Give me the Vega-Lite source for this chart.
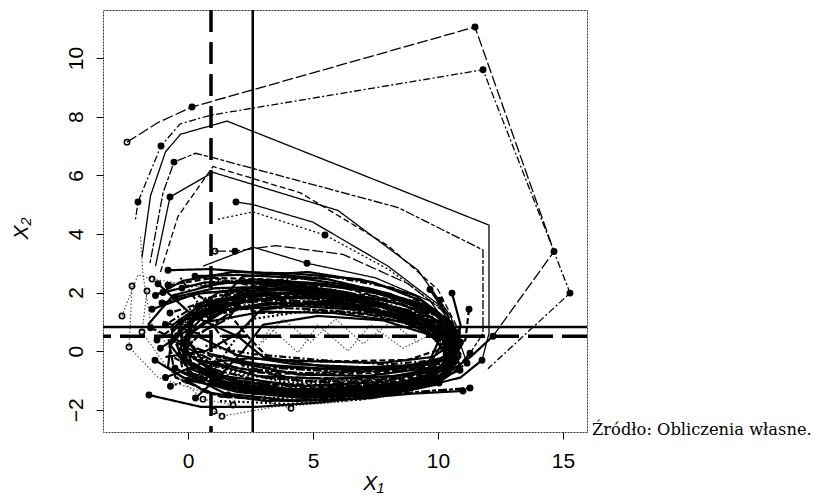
{
  "$schema": "https://vega.github.io/schema/vega-lite/v6.json",
  "width": 484,
  "height": 422,
  "autosize": {"type": "none"},
  "padding": {"left": 103, "top": 10, "right": 232, "bottom": 64},
  "background": "white",
  "config": {
    "view": {"stroke": "#333", "strokeWidth": 1, "strokeDash": [2, 1]},
    "font": "Liberation Sans",
    "axisX": {
      "domain": false, "grid": false, "tickSize": 7, "tickColor": "#000", "tickWidth": 1,
      "labelFont": "Liberation Sans", "labelFontSize": 21, "labelColor": "#000",
      "labelPadding": 11, "labelFlush": false, "labelOverlap": false,
      "titleFont": "Liberation Sans", "titleFontSize": 21, "titleFontStyle": "italic",
      "titleFontWeight": "normal", "titleColor": "#000",
      "titleX": 270, "titleY": 57, "titleAlign": "center", "titleBaseline": "alphabetic"
    },
    "axisY": {
      "domain": false, "grid": false, "tickSize": 7, "tickColor": "#000", "tickWidth": 1,
      "labelFont": "Liberation Sans", "labelFontSize": 21, "labelColor": "#000",
      "labelAngle": 270, "labelAlign": "center", "labelBaseline": "alphabetic",
      "labelPadding": 14, "labelFlush": false, "labelOverlap": false,
      "titleFont": "Liberation Sans", "titleFontSize": 21, "titleFontStyle": "italic",
      "titleFontWeight": "normal", "titleColor": "#000",
      "titleAngle": 270, "titleX": -76, "titleY": 218, "titleAlign": "center", "titleBaseline": "alphabetic"
    }
  },
  "datasets": {
    "paths": [
      {"id":1,"t":1,"x":-0.8,"y":2.76},{"id":1,"t":2,"x":0.9,"y":2.8},{"id":1,"t":3,"x":3.2,"y":2.65},{"id":1,"t":4,"x":5.6,"y":2.45},{"id":1,"t":5,"x":8.1,"y":1.95},{"id":1,"t":6,"x":9.9,"y":1.25},{"id":1,"t":7,"x":10.7,"y":0.35},{"id":1,"t":8,"x":10.3,"y":-0.55},{"id":1,"t":9,"x":7.8,"y":-1.05},{"id":1,"t":10,"x":4.6,"y":-1.2},{"id":1,"t":11,"x":1.4,"y":-0.85},{"id":1,"t":12,"x":-0.4,"y":0.1},
      {"id":2,"t":1,"x":-0.8,"y":2.25},{"id":2,"t":2,"x":1.0,"y":2.5},{"id":2,"t":3,"x":3.1,"y":2.45},{"id":2,"t":4,"x":5.8,"y":2.25},{"id":2,"t":5,"x":8.3,"y":1.7},{"id":2,"t":6,"x":10.1,"y":0.95},{"id":2,"t":7,"x":10.6,"y":0.05},{"id":2,"t":8,"x":9.9,"y":-0.75},{"id":2,"t":9,"x":7.2,"y":-1.3},{"id":2,"t":10,"x":4.1,"y":-1.4},{"id":2,"t":11,"x":1.2,"y":-1.05},{"id":2,"t":12,"x":-0.6,"y":-0.2},
      {"id":3,"t":1,"x":-1.0,"y":2.0},{"id":3,"t":2,"x":0.7,"y":2.35},{"id":3,"t":3,"x":2.9,"y":2.3},{"id":3,"t":4,"x":5.4,"y":2.1},{"id":3,"t":5,"x":7.9,"y":1.6},{"id":3,"t":6,"x":9.8,"y":0.9},{"id":3,"t":7,"x":10.9,"y":-0.1},{"id":3,"t":8,"x":10.2,"y":-0.9},{"id":3,"t":9,"x":7.6,"y":-1.45},{"id":3,"t":10,"x":4.8,"y":-1.55},{"id":3,"t":11,"x":2.0,"y":-1.3},{"id":3,"t":12,"x":0.1,"y":-0.6},
      {"id":4,"t":1,"x":-0.24,"y":2.15},{"id":4,"t":2,"x":1.3,"y":2.4},{"id":4,"t":3,"x":3.6,"y":2.35},{"id":4,"t":4,"x":6.1,"y":2.05},{"id":4,"t":5,"x":8.6,"y":1.45},{"id":4,"t":6,"x":10.2,"y":0.7},{"id":4,"t":7,"x":10.5,"y":-0.2},{"id":4,"t":8,"x":9.6,"y":-0.95},{"id":4,"t":9,"x":6.9,"y":-1.2},{"id":4,"t":10,"x":3.8,"y":-1.05},{"id":4,"t":11,"x":1.0,"y":-0.5},{"id":4,"t":12,"x":-0.2,"y":0.4},
      {"id":5,"t":1,"x":-0.52,"y":1.84},{"id":5,"t":2,"x":1.1,"y":2.15},{"id":5,"t":3,"x":3.4,"y":2.2},{"id":5,"t":4,"x":5.9,"y":1.95},{"id":5,"t":5,"x":8.4,"y":1.35},{"id":5,"t":6,"x":10.0,"y":0.6},{"id":5,"t":7,"x":10.8,"y":-0.35},{"id":5,"t":8,"x":10.0,"y":-1.1},{"id":5,"t":9,"x":7.4,"y":-1.6},{"id":5,"t":10,"x":4.3,"y":-1.7},{"id":5,"t":11,"x":1.5,"y":-1.45},{"id":5,"t":12,"x":-0.3,"y":-0.7},
      {"id":6,"t":1,"x":-1.04,"y":1.64},{"id":6,"t":2,"x":0.6,"y":2.0},{"id":6,"t":3,"x":2.8,"y":2.05},{"id":6,"t":4,"x":5.2,"y":1.85},{"id":6,"t":5,"x":7.7,"y":1.4},{"id":6,"t":6,"x":9.7,"y":0.75},{"id":6,"t":7,"x":10.6,"y":-0.15},{"id":6,"t":8,"x":9.8,"y":-0.7},{"id":6,"t":9,"x":7.0,"y":-0.95},{"id":6,"t":10,"x":4.0,"y":-0.9},{"id":6,"t":11,"x":1.3,"y":-0.45},{"id":6,"t":12,"x":-0.6,"y":0.35},
      {"id":7,"t":1,"x":-0.72,"y":1.3},{"id":7,"t":2,"x":0.9,"y":1.75},{"id":7,"t":3,"x":3.0,"y":1.9},{"id":7,"t":4,"x":5.5,"y":1.75},{"id":7,"t":5,"x":8.0,"y":1.3},{"id":7,"t":6,"x":9.9,"y":0.55},{"id":7,"t":7,"x":10.4,"y":-0.3},{"id":7,"t":8,"x":9.5,"y":-1.0},{"id":7,"t":9,"x":6.6,"y":-1.35},{"id":7,"t":10,"x":3.5,"y":-1.3},{"id":7,"t":11,"x":0.9,"y":-0.85},{"id":7,"t":12,"x":-0.5,"y":0.0},
      {"id":8,"t":1,"x":-1.44,"y":1.43},{"id":8,"t":2,"x":0.3,"y":1.95},{"id":8,"t":3,"x":2.6,"y":2.15},{"id":8,"t":4,"x":5.0,"y":2.0},{"id":8,"t":5,"x":7.5,"y":1.6},{"id":8,"t":6,"x":9.5,"y":1.0},{"id":8,"t":7,"x":10.7,"y":0.2},{"id":8,"t":8,"x":10.4,"y":-0.6},{"id":8,"t":9,"x":8.2,"y":-1.15},{"id":8,"t":10,"x":5.2,"y":-1.35},{"id":8,"t":11,"x":2.3,"y":-1.2},{"id":8,"t":12,"x":0.0,"y":-0.45},
      {"id":9,"t":1,"x":-1.24,"y":0.38},{"id":9,"t":2,"x":0.2,"y":1.3},{"id":9,"t":3,"x":2.4,"y":1.8},{"id":9,"t":4,"x":4.9,"y":1.8},{"id":9,"t":5,"x":7.3,"y":1.5},{"id":9,"t":6,"x":9.4,"y":0.95},{"id":9,"t":7,"x":10.5,"y":0.1},{"id":9,"t":8,"x":10.1,"y":-0.85},{"id":9,"t":9,"x":7.9,"y":-1.35},{"id":9,"t":10,"x":5.0,"y":-1.5},{"id":9,"t":11,"x":2.2,"y":-1.35},{"id":9,"t":12,"x":0.2,"y":-0.8},
      {"id":10,"t":1,"x":-1.32,"y":-0.31},{"id":10,"t":2,"x":-0.2,"y":-0.9},{"id":10,"t":3,"x":2.0,"y":-1.4},{"id":10,"t":4,"x":4.6,"y":-1.6},{"id":10,"t":5,"x":7.6,"y":-1.5},{"id":10,"t":6,"x":9.9,"y":-1.05},{"id":10,"t":7,"x":10.6,"y":-0.4},{"id":10,"t":8,"x":10.2,"y":0.5},{"id":10,"t":9,"x":8.5,"y":1.25},{"id":10,"t":10,"x":6.0,"y":1.6},{"id":10,"t":11,"x":3.2,"y":1.65},{"id":10,"t":12,"x":0.8,"y":1.3},
      {"id":11,"t":1,"x":-0.52,"y":-0.58},{"id":11,"t":2,"x":0.8,"y":-1.1},{"id":11,"t":3,"x":3.0,"y":-1.45},{"id":11,"t":4,"x":5.6,"y":-1.5},{"id":11,"t":5,"x":8.2,"y":-1.3},{"id":11,"t":6,"x":10.0,"y":-0.75},{"id":11,"t":7,"x":10.8,"y":0.15},{"id":11,"t":8,"x":10.0,"y":0.95},{"id":11,"t":9,"x":8.0,"y":1.55},{"id":11,"t":10,"x":5.3,"y":1.85},{"id":11,"t":11,"x":2.5,"y":1.95},{"id":11,"t":12,"x":0.3,"y":1.6},
      {"id":12,"t":1,"x":-1.56,"y":-1.5},{"id":12,"t":2,"x":0.5,"y":-1.9},{"id":12,"t":3,"x":2.8,"y":-1.9},{"id":12,"t":4,"x":5.3,"y":-1.75},{"id":12,"t":5,"x":7.9,"y":-1.5},{"id":12,"t":6,"x":9.9,"y":-1.15},{"id":12,"t":7,"x":10.9,"y":-0.55},{"id":12,"t":8,"x":10.5,"y":0.3},{"id":12,"t":9,"x":8.6,"y":1.0},{"id":12,"t":10,"x":5.8,"y":1.3},{"id":12,"t":11,"x":3.0,"y":1.35},{"id":12,"t":12,"x":0.8,"y":1.0},
      {"id":13,"t":1,"x":1.6,"y":-1.5},{"id":13,"t":2,"x":3.5,"y":-1.6},{"id":13,"t":3,"x":6.2,"y":-1.55},{"id":13,"t":4,"x":8.7,"y":-1.3},{"id":13,"t":5,"x":10.3,"y":-0.85},{"id":13,"t":6,"x":10.9,"y":-0.1},{"id":13,"t":7,"x":10.2,"y":0.7},{"id":13,"t":8,"x":8.1,"y":1.35},{"id":13,"t":9,"x":5.6,"y":1.65},{"id":13,"t":10,"x":3.0,"y":1.75},{"id":13,"t":11,"x":0.6,"y":1.45},{"id":13,"t":12,"x":-0.4,"y":0.7},
      {"id":14,"t":1,"x":0.28,"y":2.56},{"id":14,"t":2,"x":2.0,"y":2.6},{"id":14,"t":3,"x":4.4,"y":2.5},{"id":14,"t":4,"x":6.8,"y":2.2},{"id":14,"t":5,"x":9.0,"y":1.55},{"id":14,"t":6,"x":10.4,"y":0.8},{"id":14,"t":7,"x":10.9,"y":-0.2},{"id":14,"t":8,"x":10.1,"y":-1.0},{"id":14,"t":9,"x":7.3,"y":-1.45},{"id":14,"t":10,"x":4.4,"y":-1.5},{"id":14,"t":11,"x":1.8,"y":-1.2},{"id":14,"t":12,"x":0.2,"y":-0.4},
      {"id":15,"t":1,"x":-0.3,"y":1.0},{"id":15,"t":2,"x":1.4,"y":1.6},{"id":15,"t":3,"x":3.7,"y":1.75},{"id":15,"t":4,"x":6.3,"y":1.6},{"id":15,"t":5,"x":8.7,"y":1.15},{"id":15,"t":6,"x":10.3,"y":0.45},{"id":15,"t":7,"x":10.6,"y":-0.45},{"id":15,"t":8,"x":9.5,"y":-1.2},{"id":15,"t":9,"x":6.8,"y":-1.5},{"id":15,"t":10,"x":3.7,"y":-1.45},{"id":15,"t":11,"x":1.1,"y":-1.0},{"id":15,"t":12,"x":-0.2,"y":-0.2},
      {"id":16,"t":1,"x":-0.9,"y":0.9},{"id":16,"t":2,"x":0.4,"y":1.6},{"id":16,"t":3,"x":2.7,"y":1.95},{"id":16,"t":4,"x":5.1,"y":1.95},{"id":16,"t":5,"x":7.6,"y":1.55},{"id":16,"t":6,"x":9.6,"y":0.85},{"id":16,"t":7,"x":10.8,"y":0.0},{"id":16,"t":8,"x":10.3,"y":-0.8},{"id":16,"t":9,"x":8.0,"y":-1.2},{"id":16,"t":10,"x":4.9,"y":-1.3},{"id":16,"t":11,"x":2.0,"y":-1.0},{"id":16,"t":12,"x":0.1,"y":-0.2},
      {"id":17,"t":1,"x":0.0,"y":-1.0},{"id":17,"t":2,"x":1.9,"y":-1.3},{"id":17,"t":3,"x":4.3,"y":-1.4},{"id":17,"t":4,"x":7.0,"y":-1.3},{"id":17,"t":5,"x":9.3,"y":-0.95},{"id":17,"t":6,"x":10.7,"y":-0.35},{"id":17,"t":7,"x":10.6,"y":0.45},{"id":17,"t":8,"x":9.0,"y":1.1},{"id":17,"t":9,"x":6.5,"y":1.5},{"id":17,"t":10,"x":3.9,"y":1.65},{"id":17,"t":11,"x":1.4,"y":1.4},{"id":17,"t":12,"x":0.0,"y":0.6},
      {"id":18,"t":1,"x":-0.2,"y":0.3},{"id":18,"t":2,"x":0.9,"y":1.2},{"id":18,"t":3,"x":3.0,"y":1.6},{"id":18,"t":4,"x":5.6,"y":1.55},{"id":18,"t":5,"x":8.1,"y":1.2},{"id":18,"t":6,"x":9.9,"y":0.5},{"id":18,"t":7,"x":10.4,"y":-0.4},{"id":18,"t":8,"x":9.2,"y":-1.05},{"id":18,"t":9,"x":6.3,"y":-1.2},{"id":18,"t":10,"x":3.3,"y":-1.1},{"id":18,"t":11,"x":0.9,"y":-0.6},{"id":18,"t":12,"x":-0.2,"y":0.1},
      {"id":19,"t":1,"x":10.56,"y":1.98},{"id":19,"t":2,"x":10.9,"y":0.9},{"id":19,"t":3,"x":10.7,"y":-0.2},{"id":19,"t":4,"x":9.7,"y":-0.9},{"id":19,"t":5,"x":7.0,"y":-1.25},{"id":19,"t":6,"x":4.0,"y":-1.3},{"id":19,"t":7,"x":1.3,"y":-0.9},{"id":19,"t":8,"x":-0.3,"y":0.1},{"id":19,"t":9,"x":0.4,"y":1.5},{"id":19,"t":10,"x":2.8,"y":2.1},{"id":19,"t":11,"x":5.7,"y":2.1},{"id":19,"t":12,"x":8.5,"y":1.6},
      {"id":20,"t":1,"x":11.24,"y":1.43},{"id":20,"t":2,"x":11.1,"y":0.4},{"id":20,"t":3,"x":10.3,"y":-0.6},{"id":20,"t":4,"x":7.9,"y":-1.1},{"id":20,"t":5,"x":5.0,"y":-1.25},{"id":20,"t":6,"x":2.1,"y":-1.05},{"id":20,"t":7,"x":0.0,"y":-0.4},{"id":20,"t":8,"x":-0.4,"y":0.9},{"id":20,"t":9,"x":1.6,"y":1.9},{"id":20,"t":10,"x":4.3,"y":2.15},{"id":20,"t":11,"x":7.3,"y":1.9},{"id":20,"t":12,"x":9.6,"y":1.3},
      {"id":21,"t":1,"x":9.68,"y":2.1},{"id":21,"t":2,"x":10.4,"y":1.2},{"id":21,"t":3,"x":10.6,"y":0.1},{"id":21,"t":4,"x":9.9,"y":-0.85},{"id":21,"t":5,"x":7.5,"y":-1.35},{"id":21,"t":6,"x":4.6,"y":-1.45},{"id":21,"t":7,"x":1.7,"y":-1.2},{"id":21,"t":8,"x":-0.1,"y":-0.35},{"id":21,"t":9,"x":0.2,"y":1.1},{"id":21,"t":10,"x":2.3,"y":1.85},{"id":21,"t":11,"x":5.2,"y":2.05},{"id":21,"t":12,"x":7.9,"y":1.75},
      {"id":22,"t":1,"x":10.08,"y":1.74},{"id":22,"t":2,"x":10.7,"y":0.7},{"id":22,"t":3,"x":10.4,"y":-0.4},{"id":22,"t":4,"x":8.7,"y":-1.15},{"id":22,"t":5,"x":5.9,"y":-1.45},{"id":22,"t":6,"x":2.9,"y":-1.4},{"id":22,"t":7,"x":0.5,"y":-0.85},{"id":22,"t":8,"x":-0.6,"y":0.4},{"id":22,"t":9,"x":0.9,"y":1.65},{"id":22,"t":10,"x":3.6,"y":2.0},{"id":22,"t":11,"x":6.5,"y":1.85},{"id":22,"t":12,"x":9.0,"y":1.25},
      {"id":23,"t":1,"x":11.76,"y":-0.31},{"id":23,"t":2,"x":10.9,"y":-0.9},{"id":23,"t":3,"x":8.8,"y":-1.35},{"id":23,"t":4,"x":5.8,"y":-1.55},{"id":23,"t":5,"x":2.7,"y":-1.45},{"id":23,"t":6,"x":0.3,"y":-0.9},{"id":23,"t":7,"x":-0.7,"y":0.2},{"id":23,"t":8,"x":0.5,"y":1.5},{"id":23,"t":9,"x":3.0,"y":2.0},{"id":23,"t":10,"x":6.0,"y":1.95},{"id":23,"t":11,"x":8.8,"y":1.4},{"id":23,"t":12,"x":10.6,"y":0.55},
      {"id":24,"t":1,"x":11.28,"y":-0.07},{"id":24,"t":2,"x":10.6,"y":-0.75},{"id":24,"t":3,"x":8.4,"y":-1.2},{"id":24,"t":4,"x":5.4,"y":-1.35},{"id":24,"t":5,"x":2.4,"y":-1.2},{"id":24,"t":6,"x":0.2,"y":-0.55},{"id":24,"t":7,"x":-0.3,"y":0.7},{"id":24,"t":8,"x":1.3,"y":1.7},{"id":24,"t":9,"x":4.0,"y":2.0},{"id":24,"t":10,"x":7.0,"y":1.8},{"id":24,"t":11,"x":9.4,"y":1.15},{"id":24,"t":12,"x":10.7,"y":0.35},
      {"id":25,"t":1,"x":11.16,"y":-0.41},{"id":25,"t":2,"x":10.1,"y":-1.0},{"id":25,"t":3,"x":7.7,"y":-1.4},{"id":25,"t":4,"x":4.7,"y":-1.55},{"id":25,"t":5,"x":1.8,"y":-1.35},{"id":25,"t":6,"x":-0.2,"y":-0.7},{"id":25,"t":7,"x":-0.5,"y":0.6},{"id":25,"t":8,"x":1.0,"y":1.55},{"id":25,"t":9,"x":3.7,"y":1.85},{"id":25,"t":10,"x":6.6,"y":1.75},{"id":25,"t":11,"x":9.1,"y":1.2},{"id":25,"t":12,"x":10.5,"y":0.4},
      {"id":26,"t":1,"x":10.88,"y":-0.65},{"id":26,"t":2,"x":9.6,"y":-1.1},{"id":26,"t":3,"x":6.9,"y":-1.35},{"id":26,"t":4,"x":3.9,"y":-1.35},{"id":26,"t":5,"x":1.1,"y":-1.0},{"id":26,"t":6,"x":-0.4,"y":-0.1},{"id":26,"t":7,"x":0.3,"y":1.2},{"id":26,"t":8,"x":2.5,"y":1.75},{"id":26,"t":9,"x":5.3,"y":1.85},{"id":26,"t":10,"x":8.2,"y":1.5},{"id":26,"t":11,"x":10.1,"y":0.8},{"id":26,"t":12,"x":10.8,"y":-0.1},
      {"id":27,"t":1,"x":11.28,"y":-1.26},{"id":27,"t":2,"x":9.8,"y":-1.35},{"id":27,"t":3,"x":7.0,"y":-1.55},{"id":27,"t":4,"x":4.0,"y":-1.7},{"id":27,"t":5,"x":1.3,"y":-1.55},{"id":27,"t":6,"x":-0.5,"y":-0.9},{"id":27,"t":7,"x":-0.8,"y":0.5},{"id":27,"t":8,"x":0.7,"y":1.8},{"id":27,"t":9,"x":3.3,"y":2.25},{"id":27,"t":10,"x":6.3,"y":2.2},{"id":27,"t":11,"x":9.0,"y":1.7},{"id":27,"t":12,"x":10.7,"y":0.9},
      {"id":28,"t":1,"x":11.0,"y":-1.36},{"id":28,"t":2,"x":9.0,"y":-1.45},{"id":28,"t":3,"x":6.2,"y":-1.65},{"id":28,"t":4,"x":3.1,"y":-1.7},{"id":28,"t":5,"x":0.7,"y":-1.4},{"id":28,"t":6,"x":-0.8,"y":-0.55},{"id":28,"t":7,"x":-0.6,"y":0.9},{"id":28,"t":8,"x":1.2,"y":2.0},{"id":28,"t":9,"x":4.1,"y":2.35},{"id":28,"t":10,"x":7.2,"y":2.15},{"id":28,"t":11,"x":9.6,"y":1.55},{"id":28,"t":12,"x":10.9,"y":0.6},
      {"id":29,"t":1,"x":10.04,"y":-1.09},{"id":29,"t":2,"x":7.6,"y":-1.3},{"id":29,"t":3,"x":4.7,"y":-1.45},{"id":29,"t":4,"x":1.9,"y":-1.3},{"id":29,"t":5,"x":0.0,"y":-0.7},{"id":29,"t":6,"x":-0.6,"y":0.5},{"id":29,"t":7,"x":0.9,"y":1.5},{"id":29,"t":8,"x":3.4,"y":1.85},{"id":29,"t":9,"x":6.2,"y":1.8},{"id":29,"t":10,"x":8.9,"y":1.3},{"id":29,"t":11,"x":10.4,"y":0.5},{"id":29,"t":12,"x":10.4,"y":-0.5},
      {"id":30,"t":1,"x":12.2,"y":0.51},{"id":30,"t":2,"x":11.3,"y":-0.2},{"id":30,"t":3,"x":10.2,"y":-0.85},{"id":30,"t":4,"x":7.4,"y":-1.2},{"id":30,"t":5,"x":4.3,"y":-1.35},{"id":30,"t":6,"x":1.5,"y":-1.1},{"id":30,"t":7,"x":-0.2,"y":-0.3},{"id":30,"t":8,"x":0.1,"y":1.0},{"id":30,"t":9,"x":2.1,"y":1.7},{"id":30,"t":10,"x":4.9,"y":1.9},{"id":30,"t":11,"x":7.7,"y":1.6},{"id":30,"t":12,"x":9.9,"y":0.95},
      {"id":31,"t":1,"x":10.5,"y":0.9},{"id":31,"t":2,"x":10.7,"y":-0.1},{"id":31,"t":3,"x":9.9,"y":-0.65},{"id":31,"t":4,"x":7.6,"y":-0.95},{"id":31,"t":5,"x":4.8,"y":-1.05},{"id":31,"t":6,"x":2.0,"y":-0.8},{"id":31,"t":7,"x":0.2,"y":-0.1},{"id":31,"t":8,"x":0.1,"y":1.0},{"id":31,"t":9,"x":2.0,"y":1.55},{"id":31,"t":10,"x":4.6,"y":1.65},{"id":31,"t":11,"x":7.4,"y":1.45},{"id":31,"t":12,"x":9.6,"y":0.85},
      {"id":32,"t":1,"x":10.9,"y":0.3},{"id":32,"t":2,"x":10.3,"y":-0.5},{"id":32,"t":3,"x":8.3,"y":-0.85},{"id":32,"t":4,"x":5.6,"y":-0.95},{"id":32,"t":5,"x":2.8,"y":-0.85},{"id":32,"t":6,"x":0.6,"y":-0.35},{"id":32,"t":7,"x":-0.1,"y":0.5},{"id":32,"t":8,"x":1.5,"y":1.4},{"id":32,"t":9,"x":4.2,"y":1.55},{"id":32,"t":10,"x":7.0,"y":1.4},{"id":32,"t":11,"x":9.3,"y":0.95},{"id":32,"t":12,"x":10.6,"y":0.2},
      {"id":51,"t":1,"x":-0.6,"y":0.7},{"id":51,"t":2,"x":0.8,"y":1.5},{"id":51,"t":3,"x":3.2,"y":2.4},{"id":51,"t":4,"x":5.7,"y":2.55},{"id":51,"t":5,"x":8.2,"y":2.15},{"id":51,"t":6,"x":9.8,"y":1.45},{"id":51,"t":7,"x":10.6,"y":0.5},{"id":51,"t":8,"x":10.1,"y":-0.3},{"id":51,"t":9,"x":8.0,"y":-0.45},{"id":51,"t":10,"x":5.2,"y":-0.3},{"id":51,"t":11,"x":2.6,"y":-0.1},{"id":51,"t":12,"x":0.6,"y":0.2},
      {"id":52,"t":1,"x":-1.1,"y":0.1},{"id":52,"t":2,"x":0.3,"y":0.9},{"id":52,"t":3,"x":2.2,"y":2.55},{"id":52,"t":4,"x":4.8,"y":2.7},{"id":52,"t":5,"x":7.4,"y":2.35},{"id":52,"t":6,"x":9.4,"y":1.7},{"id":52,"t":7,"x":10.5,"y":0.8},{"id":52,"t":8,"x":10.3,"y":-0.2},{"id":52,"t":9,"x":8.4,"y":-0.6},{"id":52,"t":10,"x":5.5,"y":-0.6},{"id":52,"t":11,"x":2.8,"y":-0.45},{"id":52,"t":12,"x":0.9,"y":-0.1},
      {"id":53,"t":1,"x":-0.4,"y":-0.2},{"id":53,"t":2,"x":0.5,"y":0.6},{"id":53,"t":3,"x":2.0,"y":1.5},{"id":53,"t":4,"x":4.5,"y":1.45},{"id":53,"t":5,"x":7.0,"y":1.3},{"id":53,"t":6,"x":9.0,"y":0.9},{"id":53,"t":7,"x":10.2,"y":0.3},{"id":53,"t":8,"x":9.7,"y":-0.4},{"id":53,"t":9,"x":7.5,"y":-0.7},{"id":53,"t":10,"x":4.6,"y":-0.75},{"id":53,"t":11,"x":2.1,"y":-0.6},{"id":53,"t":12,"x":0.4,"y":-0.3},
      {"id":54,"t":1,"x":-0.9,"y":-0.9},{"id":54,"t":2,"x":0.6,"y":-0.4},{"id":54,"t":3,"x":2.4,"y":-0.25},{"id":54,"t":4,"x":5.0,"y":-0.35},{"id":54,"t":5,"x":7.8,"y":-0.4},{"id":54,"t":6,"x":9.8,"y":-0.2},{"id":54,"t":7,"x":10.8,"y":0.4},{"id":54,"t":8,"x":10.4,"y":1.1},{"id":54,"t":9,"x":8.3,"y":1.85},{"id":54,"t":10,"x":5.5,"y":2.3},{"id":54,"t":11,"x":2.6,"y":2.45},{"id":54,"t":12,"x":0.5,"y":2.2},
      {"id":55,"t":1,"x":-1.5,"y":0.8},{"id":55,"t":2,"x":0.0,"y":0.2},{"id":55,"t":3,"x":2.2,"y":-0.7},{"id":55,"t":4,"x":4.8,"y":-0.8},{"id":55,"t":5,"x":7.6,"y":-0.75},{"id":55,"t":6,"x":9.7,"y":-0.5},{"id":55,"t":7,"x":10.7,"y":-0.05},{"id":55,"t":8,"x":10.0,"y":0.7},{"id":55,"t":9,"x":8.0,"y":1.2},{"id":55,"t":10,"x":5.4,"y":1.35},{"id":55,"t":11,"x":2.9,"y":1.3},{"id":55,"t":12,"x":0.8,"y":1.8},
      {"id":56,"t":1,"x":-1.2,"y":2.3},{"id":56,"t":2,"x":0.2,"y":1.2},{"id":56,"t":3,"x":2.0,"y":0.5},{"id":56,"t":4,"x":3.0,"y":-0.2},{"id":56,"t":5,"x":5.6,"y":-0.55},{"id":56,"t":6,"x":8.4,"y":-0.55},{"id":56,"t":7,"x":10.3,"y":-0.25},{"id":56,"t":8,"x":10.9,"y":0.5},{"id":56,"t":9,"x":9.9,"y":1.4},{"id":56,"t":10,"x":7.6,"y":2.0},{"id":56,"t":11,"x":4.8,"y":2.3},{"id":56,"t":12,"x":1.9,"y":2.4},
      {"id":57,"t":1,"x":-0.7,"y":-1.2},{"id":57,"t":2,"x":1.0,"y":-0.7},{"id":57,"t":3,"x":1.8,"y":0.3},{"id":57,"t":4,"x":2.6,"y":1.1},{"id":57,"t":5,"x":5.0,"y":1.4},{"id":57,"t":6,"x":7.5,"y":1.25},{"id":57,"t":7,"x":9.6,"y":0.7},{"id":57,"t":8,"x":10.7,"y":-0.3},{"id":57,"t":9,"x":10.0,"y":-1.05},{"id":57,"t":10,"x":7.0,"y":-1.65},{"id":57,"t":11,"x":4.0,"y":-1.8},{"id":57,"t":12,"x":1.2,"y":-1.7},
      {"id":58,"t":1,"x":0.3,"y":-1.6},{"id":58,"t":2,"x":1.2,"y":-0.9},{"id":58,"t":3,"x":2.2,"y":0.0},{"id":58,"t":4,"x":3.0,"y":0.9},{"id":58,"t":5,"x":5.2,"y":1.2},{"id":58,"t":6,"x":7.8,"y":1.05},{"id":58,"t":7,"x":9.7,"y":0.55},{"id":58,"t":8,"x":10.5,"y":-0.2},{"id":58,"t":9,"x":9.2,"y":-0.55},{"id":58,"t":10,"x":6.5,"y":-0.65},{"id":58,"t":11,"x":3.8,"y":-0.55},{"id":58,"t":12,"x":1.6,"y":-0.3},
      {"id":59,"t":1,"x":-1.0,"y":1.0},{"id":59,"t":2,"x":0.4,"y":0.6},{"id":59,"t":3,"x":1.6,"y":1.1},{"id":59,"t":4,"x":2.4,"y":2.0},{"id":59,"t":5,"x":4.9,"y":2.3},{"id":59,"t":6,"x":7.6,"y":2.05},{"id":59,"t":7,"x":9.5,"y":1.4},{"id":59,"t":8,"x":10.4,"y":0.6},{"id":59,"t":9,"x":10.2,"y":-0.3},{"id":59,"t":10,"x":8.6,"y":-0.9},{"id":59,"t":11,"x":5.9,"y":-1.1},{"id":59,"t":12,"x":3.0,"y":-0.9},
      {"id":60,"t":1,"x":-0.3,"y":2.5},{"id":60,"t":2,"x":0.6,"y":1.4},{"id":60,"t":3,"x":1.4,"y":0.4},{"id":60,"t":4,"x":2.2,"y":-0.5},{"id":60,"t":5,"x":4.5,"y":-1.0},{"id":60,"t":6,"x":7.3,"y":-1.05},{"id":60,"t":7,"x":9.4,"y":-0.75},{"id":60,"t":8,"x":10.6,"y":-0.2},{"id":60,"t":9,"x":10.6,"y":0.7},{"id":60,"t":10,"x":9.0,"y":1.35},{"id":60,"t":11,"x":6.3,"y":1.7},{"id":60,"t":12,"x":3.4,"y":1.7},
      {"id":61,"t":1,"x":-1.3,"y":1.9},{"id":61,"t":2,"x":-0.2,"y":2.4},{"id":61,"t":3,"x":1.8,"y":2.7},{"id":61,"t":4,"x":4.2,"y":2.65},{"id":61,"t":5,"x":6.9,"y":2.45},{"id":61,"t":6,"x":9.1,"y":1.9},{"id":61,"t":7,"x":10.5,"y":1.0},{"id":61,"t":8,"x":10.8,"y":0.1},{"id":61,"t":9,"x":9.8,"y":-0.55},{"id":61,"t":10,"x":7.2,"y":-0.85},{"id":61,"t":11,"x":4.4,"y":-0.8},{"id":61,"t":12,"x":1.7,"y":-0.35},
      {"id":62,"t":1,"x":-0.5,"y":0.4},{"id":62,"t":2,"x":1.2,"y":-0.2},{"id":62,"t":3,"x":3.1,"y":-0.55},{"id":62,"t":4,"x":5.9,"y":-0.7},{"id":62,"t":5,"x":8.6,"y":-0.65},{"id":62,"t":6,"x":10.2,"y":-0.35},{"id":62,"t":7,"x":10.8,"y":0.3},{"id":62,"t":8,"x":10.0,"y":1.2},{"id":62,"t":9,"x":7.9,"y":1.75},{"id":62,"t":10,"x":5.0,"y":2.0},{"id":62,"t":11,"x":2.2,"y":1.9},{"id":62,"t":12,"x":0.2,"y":1.2},
      {"id":63,"t":1,"x":-1.6,"y":0.9},{"id":63,"t":2,"x":-0.6,"y":1.9},{"id":63,"t":3,"x":1.4,"y":2.35},{"id":63,"t":4,"x":3.9,"y":2.3},{"id":63,"t":5,"x":6.4,"y":2.0},{"id":63,"t":6,"x":8.7,"y":1.35},{"id":63,"t":7,"x":10.0,"y":0.3},{"id":63,"t":8,"x":9.6,"y":-0.45},{"id":63,"t":9,"x":7.1,"y":-0.55},{"id":63,"t":10,"x":4.3,"y":-0.45},{"id":63,"t":11,"x":2.0,"y":-0.15},{"id":63,"t":12,"x":0.4,"y":0.5},
      {"id":64,"t":1,"x":0.4,"y":1.9},{"id":64,"t":2,"x":1.6,"y":1.3},{"id":64,"t":3,"x":2.5,"y":0.4},{"id":64,"t":4,"x":3.3,"y":-0.3},{"id":64,"t":5,"x":6.0,"y":-0.35},{"id":64,"t":6,"x":8.8,"y":-0.3},{"id":64,"t":7,"x":10.4,"y":0.15},{"id":64,"t":8,"x":10.3,"y":0.9},{"id":64,"t":9,"x":8.6,"y":1.6},{"id":64,"t":10,"x":6.0,"y":2.0},{"id":64,"t":11,"x":3.3,"y":2.1},{"id":64,"t":12,"x":1.0,"y":2.5},
      {"id":65,"t":1,"x":-0.9,"y":-0.2},{"id":65,"t":2,"x":0.7,"y":0.0},{"id":65,"t":3,"x":2.0,"y":0.6},{"id":65,"t":4,"x":2.9,"y":1.4},{"id":65,"t":5,"x":5.3,"y":1.7},{"id":65,"t":6,"x":7.9,"y":1.5},{"id":65,"t":7,"x":9.9,"y":1.0},{"id":65,"t":8,"x":10.9,"y":0.2},{"id":65,"t":9,"x":10.5,"y":-0.7},{"id":65,"t":10,"x":8.3,"y":-1.3},{"id":65,"t":11,"x":5.3,"y":-1.45},{"id":65,"t":12,"x":2.4,"y":-1.4}
    ],
    "upperPaths": [
      {"id":41,"t":1,"x":-2.44,"y":7.13},{"id":41,"t":2,"x":-1.2,"y":7.8},{"id":41,"t":3,"x":0.16,"y":8.33},{"id":41,"t":4,"x":11.48,"y":11.06},{"id":41,"t":5,"x":14.64,"y":3.4},{"id":41,"t":6,"x":12.2,"y":0.51},
      {"id":42,"t":1,"x":-2.1,"y":4.5},{"id":42,"t":2,"x":-2.0,"y":5.09},{"id":42,"t":3,"x":-1.08,"y":7.0},{"id":42,"t":4,"x":-0.32,"y":7.75},{"id":42,"t":5,"x":0.9,"y":8.05},{"id":42,"t":6,"x":11.8,"y":9.6},{"id":42,"t":7,"x":14.64,"y":3.4},{"id":42,"t":8,"x":15.28,"y":1.98},{"id":42,"t":9,"x":12.0,"y":-0.6},
      {"id":43,"t":1,"x":-1.84,"y":3.2},{"id":43,"t":2,"x":-1.5,"y":5.3},{"id":43,"t":3,"x":-0.9,"y":6.8},{"id":43,"t":4,"x":-0.3,"y":7.4},{"id":43,"t":5,"x":1.56,"y":7.85},{"id":43,"t":6,"x":12.04,"y":4.3},{"id":43,"t":7,"x":12.04,"y":0.6},{"id":43,"t":8,"x":11.76,"y":-0.31},
      {"id":44,"t":1,"x":-1.52,"y":3.0},{"id":44,"t":2,"x":-1.0,"y":5.4},{"id":44,"t":3,"x":-0.56,"y":6.45},{"id":44,"t":4,"x":0.3,"y":6.75},{"id":44,"t":5,"x":1.0,"y":6.6},{"id":44,"t":6,"x":8.4,"y":4.9},{"id":44,"t":7,"x":11.8,"y":3.45},{"id":44,"t":8,"x":11.8,"y":0.6},{"id":44,"t":9,"x":11.28,"y":-0.07},
      {"id":45,"t":1,"x":-1.3,"y":2.9},{"id":45,"t":2,"x":-0.72,"y":5.26},{"id":45,"t":3,"x":1.0,"y":6.1},{"id":45,"t":4,"x":6.0,"y":4.8},{"id":45,"t":5,"x":9.2,"y":2.76},{"id":45,"t":6,"x":10.5,"y":1.2},{"id":45,"t":7,"x":11.16,"y":-0.41},
      {"id":46,"t":1,"x":-1.1,"y":2.7},{"id":46,"t":2,"x":-0.4,"y":4.6},{"id":46,"t":3,"x":1.0,"y":6.3},{"id":46,"t":4,"x":4.5,"y":5.4},{"id":46,"t":5,"x":8.0,"y":3.6},{"id":46,"t":6,"x":10.0,"y":2.1},{"id":46,"t":7,"x":10.9,"y":0.6},
      {"id":47,"t":1,"x":1.92,"y":5.09},{"id":47,"t":2,"x":2.6,"y":5.0},{"id":47,"t":3,"x":5.0,"y":4.4},{"id":47,"t":4,"x":8.0,"y":2.9},{"id":47,"t":5,"x":10.0,"y":1.6},{"id":47,"t":6,"x":10.9,"y":0.4},{"id":47,"t":7,"x":10.2,"y":-0.8},
      {"id":48,"t":1,"x":1.2,"y":4.5},{"id":48,"t":2,"x":2.6,"y":4.75},{"id":48,"t":3,"x":5.48,"y":3.96},{"id":48,"t":4,"x":8.08,"y":2.76},{"id":48,"t":5,"x":10.2,"y":1.4},{"id":48,"t":6,"x":10.8,"y":0.1},
      {"id":49,"t":1,"x":0.6,"y":2.9},{"id":49,"t":2,"x":2.6,"y":3.55},{"id":49,"t":3,"x":4.76,"y":3.0},{"id":49,"t":4,"x":7.5,"y":2.5},{"id":49,"t":5,"x":9.7,"y":1.7},{"id":49,"t":6,"x":10.6,"y":0.6},
      {"id":50,"t":1,"x":1.08,"y":3.41},{"id":50,"t":2,"x":1.88,"y":3.41},{"id":50,"t":3,"x":3.5,"y":3.6},{"id":50,"t":4,"x":6.2,"y":3.3},{"id":50,"t":5,"x":8.8,"y":2.3},{"id":50,"t":6,"x":10.3,"y":1.3}
    ],
    "faintPaths": [
      {"id":101,"t":1,"x":-2.24,"y":2.22},{"id":101,"t":2,"x":-2.3,"y":1.1},{"id":101,"t":3,"x":-2.36,"y":0.14},{"id":101,"t":4,"x":-1.2,"y":-0.9},{"id":101,"t":5,"x":1.0,"y":-1.5},{"id":101,"t":6,"x":3.0,"y":-1.7},{"id":101,"t":7,"x":4.12,"y":-1.95},
      {"id":102,"t":1,"x":-2.64,"y":1.2},{"id":102,"t":2,"x":-2.0,"y":2.6},{"id":102,"t":3,"x":-1.44,"y":2.46},{"id":102,"t":4,"x":0.5,"y":2.2},{"id":102,"t":5,"x":3.0,"y":1.9},
      {"id":103,"t":1,"x":-1.64,"y":2.05},{"id":103,"t":2,"x":-1.84,"y":0.65},{"id":103,"t":3,"x":-0.8,"y":-0.6},{"id":103,"t":4,"x":0.6,"y":-1.64},{"id":103,"t":5,"x":1.8,"y":-1.84},
      {"id":104,"t":1,"x":1.04,"y":-2.05},{"id":104,"t":2,"x":1.36,"y":-2.22},{"id":104,"t":3,"x":3.5,"y":-1.9},{"id":104,"t":4,"x":6.0,"y":-1.75},{"id":104,"t":5,"x":8.5,"y":-1.5},
      {"id":105,"t":1,"x":-1.9,"y":3.9},{"id":105,"t":2,"x":-1.8,"y":2.6},{"id":105,"t":3,"x":-1.5,"y":1.0},{"id":105,"t":4,"x":-0.5,"y":-0.2},
      {"id":106,"t":1,"x":2.6,"y":-0.1},{"id":106,"t":2,"x":3.3,"y":0.8},{"id":106,"t":3,"x":4.4,"y":-0.05},{"id":106,"t":4,"x":5.2,"y":0.9},{"id":106,"t":5,"x":6.4,"y":0.0},{"id":106,"t":6,"x":7.3,"y":0.9},{"id":106,"t":7,"x":8.6,"y":0.1},{"id":106,"t":8,"x":9.8,"y":0.6},
      {"id":107,"t":1,"x":3.0,"y":0.3},{"id":107,"t":2,"x":3.8,"y":1.1},{"id":107,"t":3,"x":4.9,"y":0.3},{"id":107,"t":4,"x":5.9,"y":1.1},{"id":107,"t":5,"x":7.0,"y":0.25},{"id":107,"t":6,"x":8.1,"y":1.0},{"id":107,"t":7,"x":9.2,"y":0.3}
    ],
    "dots": [
      {"x":-0.8,"y":2.76},{"x":-0.8,"y":2.25},{"x":-1.0,"y":2.0},{"x":-0.24,"y":2.15},{"x":-0.52,"y":1.84},{"x":-1.04,"y":1.64},{"x":-0.72,"y":1.3},{"x":-1.44,"y":1.43},{"x":-1.24,"y":0.38},{"x":-1.32,"y":-0.31},{"x":-0.52,"y":-0.58},{"x":-1.56,"y":-1.5},{"x":1.6,"y":-1.5},{"x":0.28,"y":2.56},{"x":-0.3,"y":1.0},{"x":-0.9,"y":0.9},{"x":0.0,"y":-1.0},{"x":-0.2,"y":0.3},{"x":-1.1,"y":0.1},{"x":-0.9,"y":-0.9},{"x":-1.5,"y":0.8},{"x":-1.2,"y":2.3},{"x":-0.7,"y":-1.2},{"x":0.3,"y":-1.6},{"x":-1.3,"y":1.9},
      {"x":10.56,"y":1.98},{"x":11.24,"y":1.43},{"x":9.68,"y":2.1},{"x":10.08,"y":1.74},{"x":11.76,"y":-0.31},{"x":11.28,"y":-0.07},{"x":11.16,"y":-0.41},{"x":10.88,"y":-0.65},{"x":11.28,"y":-1.26},{"x":11.0,"y":-1.36},{"x":10.04,"y":-1.09},{"x":12.2,"y":0.51},{"x":10.5,"y":0.9},{"x":10.9,"y":0.3},
      {"x":4.76,"y":3.0},{"x":5.48,"y":3.96},{"x":1.92,"y":5.09},{"x":1.88,"y":3.41},{"x":-0.72,"y":5.26},{"x":-0.56,"y":6.45},{"x":-1.08,"y":7.0},{"x":-2.0,"y":5.09},{"x":0.16,"y":8.33},{"x":11.48,"y":11.06},{"x":11.8,"y":9.6},{"x":14.64,"y":3.4},{"x":15.28,"y":1.98}
    ],
    "openDots": [
      {"x":-2.44,"y":7.13},{"x":1.08,"y":3.41},{"x":-1.44,"y":2.46},{"x":-2.24,"y":2.22},{"x":-1.64,"y":2.05},{"x":-2.64,"y":1.2},{"x":-1.84,"y":0.65},{"x":-2.36,"y":0.14},{"x":0.6,"y":-1.64},{"x":1.8,"y":-1.84},{"x":1.04,"y":-2.05},{"x":1.36,"y":-2.22},{"x":4.12,"y":-1.95}
    ],
    "note": [{"txt": "Źródło: Obliczenia własne."}]
  },
  "layer": [
    {
      "data": {"name": "faintPaths"},
      "mark": {"type": "line", "stroke": "#444", "strokeWidth": 1.1, "strokeDash": [1.5, 2]},
      "encoding": {
        "x": {"field": "x", "type": "quantitative", "scale": {"domain": [-3.4, 15.96], "nice": false, "zero": false}, "axis": {"title": "X₁", "values": [0, 5, 10, 15]}},
        "y": {"field": "y", "type": "quantitative", "scale": {"domain": [-2.76, 11.64], "nice": false, "zero": false}, "axis": {"title": "X₂", "values": [-2, 0, 2, 4, 6, 8, 10]}},
        "detail": {"field": "id", "type": "nominal"},
        "order": {"field": "t", "type": "quantitative"}
      }
    },
    {
      "data": {"name": "paths"},
      "mark": {"type": "line", "stroke": "#000", "strokeWidth": 2.2},
      "encoding": {
        "x": {"field": "x", "type": "quantitative", "scale": {"domain": [-3.4, 15.96], "nice": false, "zero": false}, "axis": {"title": "X₁", "values": [0, 5, 10, 15]}},
        "y": {"field": "y", "type": "quantitative", "scale": {"domain": [-2.76, 11.64], "nice": false, "zero": false}, "axis": {"title": "X₂", "values": [-2, 0, 2, 4, 6, 8, 10]}},
        "strokeDash": {
          "field": "id", "type": "nominal", "legend": null,
          "scale": {"range": [[1, 0], [6, 3], [1, 0], [2, 2.5], [1, 0], [11, 3], [2, 2.5, 7, 2.5], [1, 0], [4, 2, 9, 2]]}
        },
        "order": {"field": "t", "type": "quantitative"}
      }
    },
    {
      "data": {"name": "upperPaths"},
      "mark": {"type": "line", "stroke": "#000", "strokeWidth": 1.3},
      "encoding": {
        "x": {"field": "x", "type": "quantitative", "scale": {"domain": [-3.4, 15.96], "nice": false, "zero": false}, "axis": {"title": "X₁", "values": [0, 5, 10, 15]}},
        "y": {"field": "y", "type": "quantitative", "scale": {"domain": [-2.76, 11.64], "nice": false, "zero": false}, "axis": {"title": "X₂", "values": [-2, 0, 2, 4, 6, 8, 10]}},
        "strokeDash": {
          "field": "id", "type": "nominal", "legend": null,
          "scale": {"range": [[2, 2], [6, 3], [2, 2.5, 7, 2.5], [4, 2], [11, 3], [4, 2, 9, 2]]}
        },
        "order": {"field": "t", "type": "quantitative"}
      }
    },
    {
      "data": {"name": "dots"},
      "mark": {"type": "point", "filled": true, "fill": "#000", "size": 48, "opacity": 1},
      "encoding": {
        "x": {"field": "x", "type": "quantitative", "scale": {"domain": [-3.4, 15.96], "nice": false, "zero": false}, "axis": {"title": "X₁", "values": [0, 5, 10, 15]}},
        "y": {"field": "y", "type": "quantitative", "scale": {"domain": [-2.76, 11.64], "nice": false, "zero": false}, "axis": {"title": "X₂", "values": [-2, 0, 2, 4, 6, 8, 10]}}
      }
    },
    {
      "data": {"name": "openDots"},
      "mark": {"type": "point", "filled": false, "stroke": "#000", "strokeWidth": 1.6, "size": 28, "opacity": 1},
      "encoding": {
        "x": {"field": "x", "type": "quantitative", "scale": {"domain": [-3.4, 15.96], "nice": false, "zero": false}, "axis": {"title": "X₁", "values": [0, 5, 10, 15]}},
        "y": {"field": "y", "type": "quantitative", "scale": {"domain": [-2.76, 11.64], "nice": false, "zero": false}, "axis": {"title": "X₂", "values": [-2, 0, 2, 4, 6, 8, 10]}}
      }
    },
    {
      "data": {"values": [{}]},
      "mark": {"type": "rule", "stroke": "#000", "strokeWidth": 3.5, "strokeDash": [22, 10]},
      "encoding": {"x": {"datum": 0.92, "type": "quantitative", "scale": {"domain": [-3.4, 15.96], "nice": false, "zero": false}, "axis": {"title": "X₁", "values": [0, 5, 10, 15]}}}
    },
    {
      "data": {"values": [{}]},
      "mark": {"type": "rule", "stroke": "#000", "strokeWidth": 2.5},
      "encoding": {"x": {"datum": 2.59, "type": "quantitative", "scale": {"domain": [-3.4, 15.96], "nice": false, "zero": false}, "axis": {"title": "X₁", "values": [0, 5, 10, 15]}}}
    },
    {
      "data": {"values": [{}]},
      "mark": {"type": "rule", "stroke": "#000", "strokeWidth": 2.5},
      "encoding": {"y": {"datum": 0.82, "type": "quantitative", "scale": {"domain": [-2.76, 11.64], "nice": false, "zero": false}, "axis": {"title": "X₂", "values": [-2, 0, 2, 4, 6, 8, 10]}}}
    },
    {
      "data": {"values": [{}]},
      "mark": {"type": "rule", "stroke": "#000", "strokeWidth": 3.5, "strokeDash": [25, 9]},
      "encoding": {"y": {"datum": 0.51, "type": "quantitative", "scale": {"domain": [-2.76, 11.64], "nice": false, "zero": false}, "axis": {"title": "X₂", "values": [-2, 0, 2, 4, 6, 8, 10]}}}
    },
    {
      "data": {"name": "note"},
      "mark": {"type": "text", "font": "DejaVu Serif", "fontSize": 16.3, "align": "left", "baseline": "alphabetic", "color": "#000"},
      "encoding": {
        "x": {"datum": 16.16, "type": "quantitative", "scale": {"domain": [-3.4, 15.96], "nice": false, "zero": false}, "axis": {"title": "X₁", "values": [0, 5, 10, 15]}},
        "y": {"datum": -2.86, "type": "quantitative", "scale": {"domain": [-2.76, 11.64], "nice": false, "zero": false}, "axis": {"title": "X₂", "values": [-2, 0, 2, 4, 6, 8, 10]}},
        "text": {"field": "txt"}
      }
    }
  ]
}
